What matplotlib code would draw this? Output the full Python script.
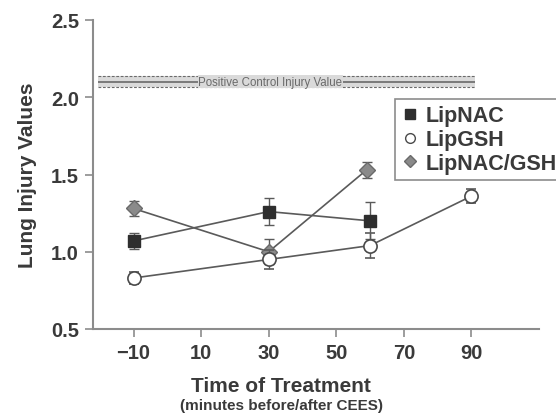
import numpy as np
import matplotlib.pyplot as plt
from matplotlib.lines import Line2D

plt.rcParams['font.family'] = ['Liberation Sans', 'DejaVu Sans']

# values
t_nac = [-10, 30, 60]
nac = [1.07, 1.26, 1.20]
nac_err = [0.05, 0.085, 0.12]

t_gsh = [-10, 30, 60, 90]
gsh = [0.83, 0.95, 1.04, 1.36]
gsh_err = [0.04, 0.06, 0.08, 0.045]

t_combo = [-10, 30, 59]
combo = [1.28, 1.00, 1.53]
combo_err = [0.05, 0.08, 0.05]

ctrl_value = 2.10
ctrl_low, ctrl_high = 2.065, 2.14
ctrl_span = (-20.5, 91)

xticks = [-10, 10, 30, 50, 70, 90]
xtick_labels = ['\u221210', '10', '30', '50', '70', '90']
yticks = [0.5, 1.0, 1.5, 2.0, 2.5]

txt = '#3a3a3a'
axc = '#8c8c8c'
line_c = '#5a5a5a'

fig = plt.figure(figsize=(5.56, 4.14), dpi=100)
ax = fig.add_axes([93 / 556, 1 - 330 / 414, (539 - 93) / 556, (330 - 21) / 414])

# positive control band
ax.fill_between(ctrl_span, ctrl_low, ctrl_high, color='#dadada', lw=0, zorder=1)
ax.hlines([ctrl_low, ctrl_high], *ctrl_span, colors='#6a6a6a', linestyles=(0, (2.5, 1.5)),
          lw=0.8, zorder=2)
ax.hlines(ctrl_value, *ctrl_span, colors='#6a6a6a', lw=1.2, zorder=2)
ax.text(30.5, ctrl_value, 'Positive Control Injury Value', fontsize=8.3, color='#6a6a6a',
        ha='center', va='center', zorder=3,
        bbox=dict(facecolor='#dadada', edgecolor='none', pad=0.3))

# series
ax.errorbar(t_combo, combo, yerr=combo_err, color=line_c, lw=1.2, marker='D', ms=8,
            mfc='#8a8a8a', mec='#6a6a6a', ecolor=line_c, elinewidth=1.0, capsize=3.5,
            capthick=1.0, zorder=4)
ax.errorbar(t_nac, nac, yerr=nac_err, color=line_c, lw=1.2, marker='s', ms=8,
            mfc='#2e2e2e', mec='#2e2e2e', ecolor=line_c, elinewidth=1.0, capsize=3.5,
            capthick=1.0, zorder=5)
ax.errorbar(t_gsh, gsh, yerr=gsh_err, color=line_c, lw=1.2, marker='o', ms=9.5,
            mfc='white', mec='#4a4a4a', mew=1.2, ecolor=line_c, elinewidth=1.0,
            capsize=3.5, capthick=1.0, zorder=6)

ax.set_xlim(-22, 110)
ax.set_ylim(0.5, 2.5)
ax.set_xticks(xticks)
ax.set_xticklabels(xtick_labels)
ax.set_yticks(yticks)
ax.set_yticklabels(['%.1f' % v for v in yticks])

for s in ['top', 'right']:
    ax.spines[s].set_visible(False)
for s in ['left', 'bottom']:
    ax.spines[s].set_color(axc)
    ax.spines[s].set_linewidth(1.5)
ax.tick_params(colors=axc, width=1.2, length=6, labelsize=14.5, labelcolor=txt, pad=4)
for lab in ax.get_xticklabels() + ax.get_yticklabels():
    lab.set_fontweight('bold')

ax.set_ylabel('Lung Injury Values', fontsize=15, fontweight='bold', color=txt, labelpad=10)
fig.text(281 / 556, 1 - 387 / 414, 'Time of Treatment', fontsize=15, fontweight='bold',
         color=txt, ha='center', va='center')
fig.text(281 / 556, 1 - 406 / 414, '(minutes before/after CEES)', fontsize=11,
         fontweight='bold', color=txt, ha='center', va='center')

handles = [
    Line2D([], [], ls='none', marker='s', ms=7, mfc='#2e2e2e', mec='#2e2e2e'),
    Line2D([], [], ls='none', marker='o', ms=7, mfc='white', mec='#4a4a4a', mew=1),
    Line2D([], [], ls='none', marker='D', ms=6.5, mfc='#8a8a8a', mec='#6a6a6a'),
]
leg = fig.legend(handles, ['LipNAC', 'LipGSH', 'LipNAC/GSH'], loc='upper left',
                 bbox_to_anchor=(395 / 556, 1 - 100 / 414), frameon=True, fancybox=False,
                 edgecolor=axc, framealpha=1, handlelength=0.8, handletextpad=0.3,
                 labelspacing=0.12, borderpad=0.3, borderaxespad=0,
                 prop={'size': 15.5, 'weight': 'bold'})
leg.get_frame().set_linewidth(1.2)
for t in leg.get_texts():
    t.set_color(txt)

fig.savefig('out.png', dpi=100)
